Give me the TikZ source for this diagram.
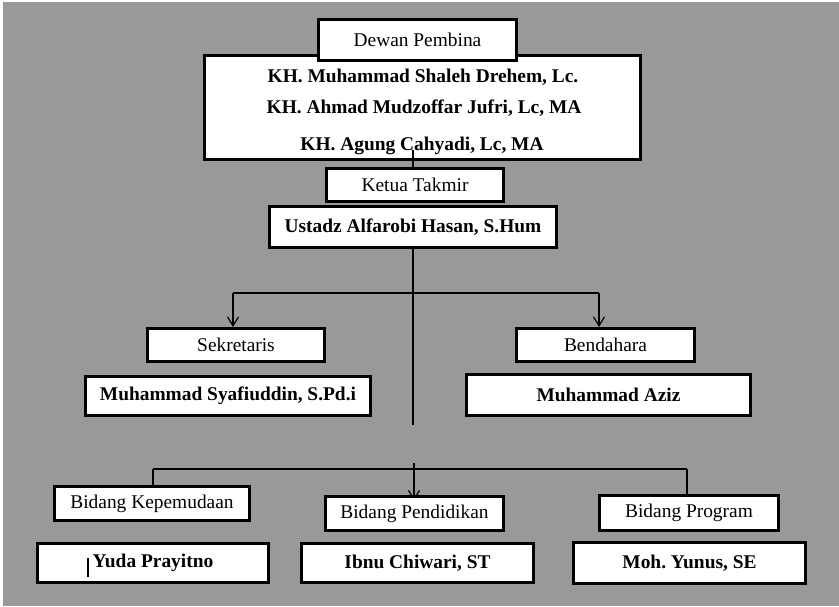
\documentclass[tikz,border=0pt]{standalone}
\usepackage{fontspec}
\setmainfont{Liberation Serif}
\usetikzlibrary{arrows.meta,backgrounds}
\definecolor{bggray}{RGB}{153,153,153}
\frenchspacing
\begin{document}
\begin{tikzpicture}[x=1pt,y=-1pt,
  box/.style={draw=black,line width=3pt,fill=white,inner sep=0pt,
    font=\fontsize{19.4}{22}\selectfont},
  namebox/.style={box,font=\fontsize{19.4}{22}\selectfont\bfseries},
  lbl/.style={anchor=base,inner sep=0pt,font=\fontsize{19.4}{22}\selectfont\bfseries},
  conn/.style={line width=1.2pt,draw=black},
  arr/.style={conn,-{Straight Barb[length=9pt,width=11pt,line width=1.2pt]}}]
\useasboundingbox (0,0) rectangle (839,606);

% top block
\node[box,minimum width=436pt,minimum height=104pt] (pembina) at (422.5,107.5) {};
\node[lbl] (p1) at (423,82) {KH. Muhammad Shaleh Drehem, Lc.};
\node[lbl] (p2) at (424,113) {KH. Ahmad Mudzoffar Jufri, Lc, MA};
\node[lbl] (p3) at (422,150) {KH. Agung Cahyadi, Lc, MA};
\node[box,minimum width=198pt,minimum height=41pt] (dewan) at (417.5,40) {Dewan Pembina};

\node[namebox,minimum width=287pt,minimum height=41pt] (ustadz) at (413,227) {Ustadz Alfarobi Hasan, S.Hum};
\node[box,minimum width=177pt,minimum height=33pt] (ketua) at (415,185) {Ketua Takmir};

% middle
\node[box,minimum width=177pt,minimum height=33pt] (sek) at (236,345) {Sekretaris};
\node[namebox,minimum width=285pt,minimum height=39pt] (syaf) at (228,396) {Muhammad Syafiuddin, S.Pd.i};
\node[box,minimum width=178pt,minimum height=33pt] (bend) at (605.5,345) {Bendahara};
\node[namebox,minimum width=284pt,minimum height=41pt] (aziz) at (608.5,395) {Muhammad Aziz};

% bottom
\node[box,minimum width=195pt,minimum height=34pt] (kep) at (152,503.5) {Bidang Kepemudaan};
\node[namebox,minimum width=231pt,minimum height=39pt] (yuda) at (153,563) {Yuda Prayitno};
\node[box,minimum width=178pt,minimum height=34pt] (pend) at (414.5,513.5) {Bidang Pendidikan};
\node[namebox,minimum width=232pt,minimum height=39pt] (ibnu) at (417.5,563) {Ibnu Chiwari, ST};
\node[box,minimum width=179pt,minimum height=35pt] (prog) at (689,513) {Bidang Program};
\node[namebox,minimum width=232pt,minimum height=41pt] (moh) at (689.5,563) {Moh. Yunus, SE};

% text cursor in Yuda box
\draw[line width=1.5pt] (88,558) -- (88,577);

% junction coordinates
\coordinate (ptop) at (413,150);
\coordinate (c1) at (413,425);
\coordinate (h1l) at (233,293);
\coordinate (h1r) at (599,293);
\coordinate (c2) at (414,463);
\coordinate (h2l) at (153,469);
\coordinate (h2r) at (687,469);

\begin{scope}[on background layer]
  \fill[bggray] (3,2) rectangle (839,606);
  \draw[conn] (ustadz.south -| c1) -- (c1);
  \draw[conn] (h1l) -- (h1r);
  \draw[arr] (h1l) -- (h1l |- sek.north);
  \draw[arr] (h1r) -- (h1r |- bend.north);
  \draw[conn] (h2l) -- (h2r);
  \draw[conn] (h2l) -- (h2l |- kep.north);
  \draw[conn] (h2r) -- (h2r |- prog.north);
  \draw[arr] (c2) -- ([yshift=-5.5pt]c2 |- pend.north);
\end{scope}

\draw[conn] (ptop) -- (ptop |- ketua.north);
\end{tikzpicture}
\end{document}
